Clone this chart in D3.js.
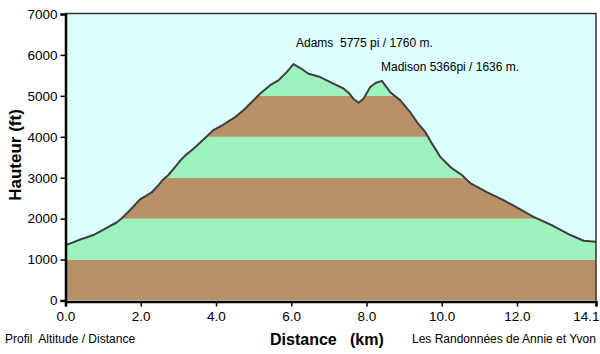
<!DOCTYPE html>
<meta charset="utf-8">
<style>

body {
	margin: 0;
	background: #fff;
}

svg text {
	font-family: "Liberation Sans", Arial, sans-serif;
	fill: #000;
	white-space: pre;
}

.axis path, .axis line {
	stroke: #000;
}

.axis text {
	font-size: 13.5px;
}

</style>
<svg width="600" height="354"></svg>
<script src="https://d3js.org/d3.v7.min.js"></script>
<script>

	// profile: distance (km) / altitude (ft)
	var distKm = [0.0, 0.2, 0.39, 0.55, 0.74, 0.95, 1.18, 1.35, 1.49, 1.72, 1.98, 2.15, 2.29, 2.47, 2.6, 2.73, 2.91, 3.05, 3.18, 3.4, 3.66, 3.93, 4.2, 4.35, 4.51, 4.73, 4.95, 5.17, 5.44, 5.66, 5.88, 6.06, 6.24, 6.46, 6.77, 7.12, 7.39, 7.55, 7.65, 7.79, 7.92, 8.1, 8.25, 8.41, 8.63, 8.9, 9.16, 9.34, 9.56, 9.75, 9.96, 10.23, 10.54, 10.77, 11.2, 11.64, 12.09, 12.44, 12.97, 13.42, 13.77, 14.1];
	var altFt = [1350, 1420, 1490, 1540, 1600, 1700, 1820, 1900, 2005, 2210, 2470, 2560, 2640, 2820, 2960, 3060, 3260, 3420, 3540, 3710, 3930, 4160, 4300, 4390, 4480, 4650, 4850, 5050, 5260, 5380, 5580, 5775, 5680, 5540, 5460, 5300, 5180, 5050, 4930, 4830, 4930, 5215, 5320, 5366, 5090, 4890, 4605, 4360, 4120, 3820, 3510, 3260, 3060, 2860, 2650, 2450, 2225, 2045, 1820, 1600, 1460, 1435];

	// alternating colour bands every 1000 ft
	var bandLow = [0, 1000, 2000, 3000, 4000, 5000, 6000];
	var bandColor = ["#b99167", "#9df3bd", "#b99167", "#9df3bd", "#b99167", "#9df3bd", "#b99167"];

	var yTicks = [0, 1000, 2000, 3000, 4000, 5000, 6000, 7000];
	var xTicks = [0, 2, 4, 6, 8, 10, 12, 14.1];

	var peakNames = ["Adams  5775 pi / 1760 m.", "Madison 5366pi / 1636 m."];

	var svg = d3.select("svg");

	var x = d3.scaleLinear().domain([0, 14.1]).range([65.5, 596]);
	var y = d3.scaleLinear().domain([0, 7000]).range([300.5, 14]);

	var profile = distKm.map(function(d, i) { return [d, altFt[i]]; });

	// sky
	svg.append("rect")
		.attr("x", x(0)).attr("y", y(7000))
		.attr("width", x(14.1) - x(0)).attr("height", y(0) - y(7000))
		.style("fill", "#dcfffe");

	var area = d3.area()
		.x(function(d) { return x(d[0]); })
		.y0(y(0))
		.y1(function(d) { return y(d[1]); });

	svg.append("clipPath")
		.attr("id", "ground")
	  .append("path")
		.attr("d", area(profile));

	svg.append("g")
		.attr("clip-path", "url(#ground)")
	  .selectAll("rect")
	  .data(bandLow)
	  .enter().append("rect")
		.attr("x", x(0))
		.attr("width", x(14.1) - x(0))
		.attr("y", function(d) { return y(d + 1000); })
		.attr("height", function(d) { return y(d) - y(d + 1000); })
		.style("fill", function(d, i) { return bandColor[i]; });

	var line = d3.line()
		.x(function(d) { return x(d[0]); })
		.y(function(d) { return y(d[1]); });

	svg.append("path")
		.attr("d", line(profile))
		.style("fill", "none")
		.style("stroke", "#3e3e3e")
		.style("stroke-width", 2)
		.style("stroke-linejoin", "round");

	// frame top / right
	svg.append("path")
		.attr("d", "M" + x(0) + "," + (y(7000) - 0.5) + "H" + x(14.1) + "V" + y(0))
		.style("fill", "none")
		.style("stroke", "#333")
		.style("stroke-width", 1.5);

	var yAxis = svg.append("g")
		.attr("class", "axis")
		.attr("transform", "translate(" + x(0) + ",0)")
		.call(d3.axisLeft(y).tickValues(yTicks).tickSize(5).tickPadding(3).tickFormat(d3.format("d")));
	yAxis.select(".domain").style("stroke-width", 2.5);
	yAxis.selectAll(".tick line").style("stroke-width", 1.5);

	var xAxis = svg.append("g")
		.attr("class", "axis")
		.attr("transform", "translate(0," + (y(0) + 1) + ")")
		.call(d3.axisBottom(x).tickValues(xTicks).tickSize(5).tickPadding(5).tickFormat(d3.format(".1f")));
	xAxis.select(".domain").style("stroke-width", 2.5);
	xAxis.selectAll(".tick line").style("stroke-width", 1.5);
	// last label sits flush against the right edge
	xAxis.selectAll(".tick text")
		.filter(function(d) { return d === 14.1; })
		.attr("text-anchor", "end")
		.attr("x", 3);
	svg.selectAll(".axis .tick text").style("font-family", "'Liberation Sans', Arial, sans-serif");

	// peak labels
	svg.append("text")
		.attr("x", 296).attr("y", 47)
		.style("font-size", "12px")
		.text(peakNames[0]);
	svg.append("text")
		.attr("x", 381).attr("y", 71)
		.style("font-size", "12px")
		.text(peakNames[1]);

	svg.append("text")
		.attr("transform", "translate(21,155) rotate(-90)")
		.style("text-anchor", "middle")
		.style("font-size", "17px")
		.style("font-weight", "bold")
		.text("Hauteur (ft)");

	svg.append("text")
		.attr("x", 270).attr("y", 345)
		.style("font-size", "16px")
		.style("font-weight", "bold")
		.text("Distance   (km)");

	svg.append("text")
		.attr("x", 5).attr("y", 343)
		.style("font-size", "12px")
		.text("Profil  Altitude / Distance");

	svg.append("text")
		.attr("x", 412).attr("y", 343)
		.style("font-size", "12px")
		.text("Les Randonnées de Annie et Yvon");

</script>
